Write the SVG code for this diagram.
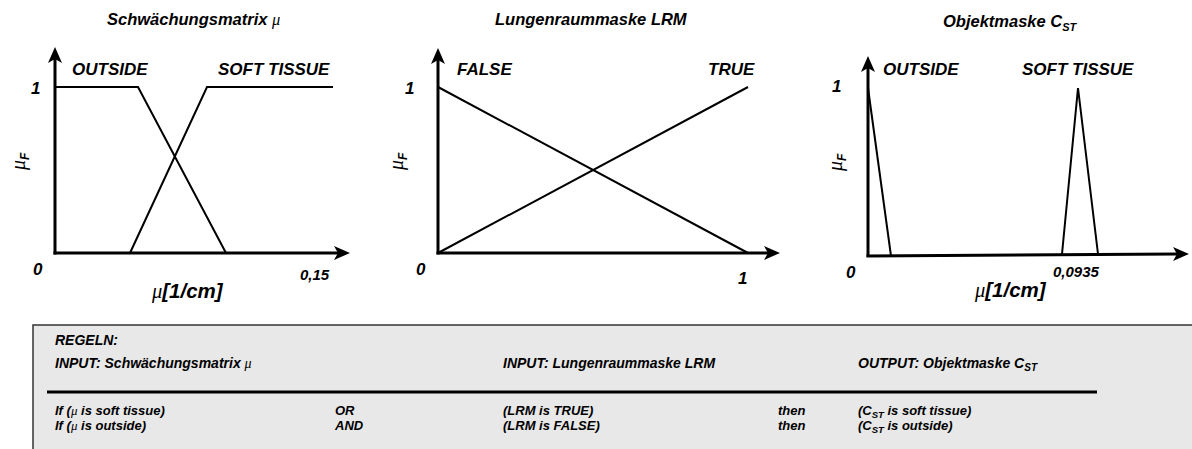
<svg xmlns="http://www.w3.org/2000/svg" width="1192" height="449" viewBox="0 0 1192 449">
<style>
.t{font-family:"Liberation Sans",Arial,sans-serif;font-weight:bold;font-style:italic;fill:#000}
.title{font-size:16.5px}
.lab{font-size:17px}
.num{font-size:17px}
.small{font-size:15px}
.unit{font-size:20.5px}
.muf{font-size:20px}
.tab{font-size:14px}
.row{font-size:13px}
.mu{font-family:"Liberation Serif","Times New Roman",serif;font-weight:normal;font-style:italic}
.axis{stroke:#000;stroke-width:3;fill:none}
.curve{stroke:#000;stroke-width:2;fill:none;stroke-linejoin:miter}
</style>
<defs>
<marker id="ah" viewBox="0 0 16 14" refX="4" refY="7" markerWidth="16" markerHeight="14" markerUnits="userSpaceOnUse" orient="auto">
<path d="M0,0 L16,7 L0,14 L4,7 Z" fill="#000"/>
</marker>
</defs>

<g id="chart1">
<text class="t title" x="107" y="25">Schwächungsmatrix <tspan class="mu">μ</tspan></text>
<text class="t lab" x="72" y="75">OUTSIDE</text>
<text class="t lab" x="218" y="75">SOFT TISSUE</text>
<text class="t num" x="31" y="94">1</text>
<text class="t num" x="33" y="275">0</text>
<text class="t small" x="300" y="280">0,15</text>
<text class="t unit" x="152" y="298"><tspan class="mu">μ</tspan>[1/cm]</text>
<text class="t muf" transform="translate(25,170) rotate(-90)"><tspan class="mu">μ</tspan><tspan font-size="12" dy="4">F</tspan></text>
<g id="axes1">
<line class="axis" x1="55" y1="254.5" x2="55" y2="59" marker-end="url(#ah)"/>
<line class="axis" x1="53.5" y1="253" x2="338" y2="253" marker-end="url(#ah)"/>
</g>
<polyline class="curve" points="55,87 138,87 226,253"/>
<polyline class="curve" points="130,253 207,87 333,87"/>
</g>

<g id="chart2">
<text class="t title" x="495" y="25">Lungenraummaske LRM</text>
<text class="t lab" x="457" y="75">FALSE</text>
<text class="t lab" x="708" y="75">TRUE</text>
<text class="t num" x="405" y="94">1</text>
<text class="t num" x="416" y="275">0</text>
<text class="t num" x="738" y="284">1</text>
<text class="t muf" transform="translate(403,170) rotate(-90)"><tspan class="mu">μ</tspan><tspan font-size="12" dy="4">F</tspan></text>
<g id="axes2">
<line class="axis" x1="438" y1="254.5" x2="438" y2="60" marker-end="url(#ah)"/>
<line class="axis" x1="436.5" y1="253" x2="768" y2="253" marker-end="url(#ah)"/>
</g>
<line class="curve" x1="438" y1="87" x2="748" y2="253"/>
<line class="curve" x1="438" y1="253" x2="748" y2="87"/>
</g>

<g id="chart3">
<text class="t title" x="943" y="27">Objektmaske C<tspan font-size="11" dy="4">ST</tspan></text>
<text class="t lab" x="883" y="75">OUTSIDE</text>
<text class="t lab" x="1022" y="75">SOFT TISSUE</text>
<text class="t num" x="832" y="92">1</text>
<text class="t num" x="846" y="278">0</text>
<text class="t small" x="1053" y="277">0,0935</text>
<text class="t unit" x="975" y="297"><tspan class="mu">μ</tspan>[1/cm]</text>
<text class="t muf" transform="translate(842,171) rotate(-90)"><tspan class="mu">μ</tspan><tspan font-size="12" dy="4">F</tspan></text>
<g id="axes3">
<line class="axis" x1="868" y1="257" x2="868" y2="68" marker-end="url(#ah)"/>
<line class="axis" x1="866.5" y1="256" x2="1177" y2="254" marker-end="url(#ah)"/>
</g>
<polyline class="curve" points="868,88 891,256"/>
<polyline class="curve" points="1062,254 1078,88 1098,254"/>
</g>

<g id="rules">
<rect x="33" y="325" width="1170" height="140" fill="#e8e8e8" stroke="#333" stroke-width="1.5"/>
<text class="t tab" x="55" y="345">REGELN:</text>
<text class="t tab" x="55" y="368">INPUT: Schwächungsmatrix <tspan class="mu">μ</tspan></text>
<text class="t tab" x="503" y="368">INPUT: Lungenraummaske LRM</text>
<text class="t tab" x="858" y="368">OUTPUT: Objektmaske C<tspan font-size="10" dy="3">ST</tspan></text>
<line x1="47" y1="392" x2="1097" y2="392" stroke="#000" stroke-width="3"/>
<text class="t row" x="55" y="415">If (<tspan class="mu">μ</tspan> is soft tissue)</text>
<text class="t row" x="335" y="415">OR</text>
<text class="t row" x="503" y="415">(LRM is TRUE)</text>
<text class="t row" x="778" y="415">then</text>
<text class="t row" x="858" y="415">(C<tspan font-size="9.5" dy="3">ST</tspan><tspan dy="-3"> is soft tissue)</tspan></text>
<text class="t row" x="55" y="430">If (<tspan class="mu">μ</tspan> is outside)</text>
<text class="t row" x="335" y="430">AND</text>
<text class="t row" x="503" y="430">(LRM is FALSE)</text>
<text class="t row" x="778" y="430">then</text>
<text class="t row" x="858" y="430">(C<tspan font-size="9.5" dy="3">ST</tspan><tspan dy="-3"> is outside)</tspan></text>
</g>
</svg>
